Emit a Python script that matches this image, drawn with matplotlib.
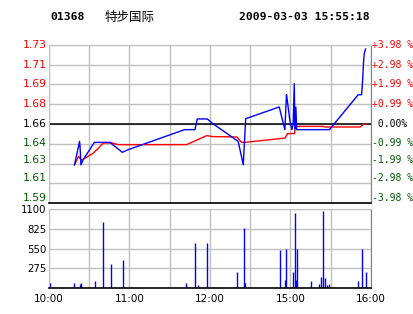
import numpy as np
import matplotlib
matplotlib.use('Agg')
import matplotlib.pyplot as plt
import matplotlib.transforms as mtransforms

# trading minutes from 10:00 (12:30-14:30 lunch break removed, 16:00 = 240)
price_t = [19, 22.8, 23.2, 23.8, 25.5, 33.8, 45.5, 54.6, 59, 101, 108.8, 110.5, 118,
           122.5, 141, 144.8, 146.6, 171.6, 175.8, 177, 177.7, 179.5, 181, 182,
           182.8, 183.3, 184, 184.6, 209, 230.5, 233, 233.8, 234.4, 235, 236]
price = [1.626, 1.6455, 1.640, 1.626, 1.6303, 1.6447, 1.6447, 1.6364, 1.6386, 1.6553, 1.6553,
         1.6642, 1.6642, 1.660, 1.6455, 1.626, 1.6644, 1.6742, 1.6553, 1.6844, 1.6790,
         1.663, 1.6553, 1.660, 1.6936, 1.656, 1.674, 1.6553, 1.6553, 1.6844, 1.6844,
         1.697, 1.711, 1.719, 1.7225]

avg_t = [19, 22, 23.3, 24.5, 29, 33, 37, 40.5, 47, 51.5, 102.5, 117.5, 122, 140, 143.5,
         146, 176, 177.7, 183, 183.5, 204, 206, 231.8, 234.8, 236]
avg = [1.626, 1.633, 1.631, 1.630, 1.633, 1.6358, 1.640, 1.6442, 1.6442, 1.6428, 1.6428,
       1.6503, 1.6495, 1.6492, 1.6447, 1.6447, 1.6483, 1.652, 1.652, 1.658, 1.658,
       1.6575, 1.6575, 1.660, 1.660]

vol_t = [1, 19, 23, 24, 34, 40, 46, 55, 102, 109, 111, 118, 140, 145, 146, 172, 176,
         177, 182, 183, 184, 185, 195, 201, 203, 204, 206, 207, 209, 230, 233, 236]
vol = [80, 80, 63, 80, 107, 925, 342, 386, 80, 635, 48, 635, 224, 840, 80, 532, 122,
       547, 224, 1046, 122, 547, 107, 63, 151, 1075, 137, 48, 63, 107, 547, 224]

prev_close = 1.66
left_labels = ['1.59', '1.61', '1.63', '1.64', '1.66', '1.68', '1.69', '1.71', '1.73']
right_labels = ['-3.98 %', '-2.98 %', '-1.99 %', '-0.99 %', ' 0.00%',
                '+0.99 %', '+1.99 %', '+2.98 %', '+3.98 %']
label_shift = [5, 5, 4, 0.6, 0, 0.5, 0.5, 0, 0]   # px the labels sit above their line
vol_ticks = [275, 550, 825, 1100]
time_labels = ['10:00', '', '11:00', '', '12:00', '', '15:00', '', '16:00']

grid_c = '#c0c0c0'
green = '#005a00'

fig = plt.figure(figsize=(4.14, 3.14), dpi=100)
fig.patch.set_facecolor('white')

fig.text(50/414, 1 - 17/314, '01368', family='DejaVu Sans Mono', weight='bold',
         fontsize=8.2, va='center', ha='left')
fig.text(105/414, 1 - 17/314, '特步国际', family=['Noto Sans CJK SC', 'DejaVu Sans'],
         fontsize=9, va='center', ha='left')
fig.text(370/414, 1 - 17/314, '2009-03-03 15:55:18', family='DejaVu Sans Mono',
         weight='bold', fontsize=8.2, va='center', ha='right')

# price panel
ax1 = fig.add_axes([49/414, 1 - 203.3/314, 322/414, 158.6/314])
step = prev_close * 0.0398 / 4
yt = [prev_close + k*step for k in range(-4, 5)]
ax1.set_ylim(yt[0], yt[-1])
ax1.set_xlim(0, 240)
ax1.set_xticks(np.arange(0, 241, 30))
ax1.set_xticklabels([])
ax1.set_yticks(yt)
ax1.set_yticklabels([])
ax1.tick_params(length=0)
ax1.grid(color=grid_c, lw=1.0)
ax1.set_axisbelow(True)
ax1.axhline(prev_close, color='black', lw=1.1)
ax1.plot(avg_t, avg, color='red', lw=1.0)
ax1.plot(price_t, price, color='blue', lw=1.0)

trans = mtransforms.blended_transform_factory(ax1.transAxes, ax1.transData)
for i in range(len(yt)):
    c = 'red' if i > 4 else (green if i < 4 else 'black')
    off = mtransforms.ScaledTranslation(0, label_shift[i]/100, fig.dpi_scale_trans)
    ax1.text(-2/322, yt[i], left_labels[i], transform=trans + off, ha='right',
             va='center', fontsize=7.8, color=c)
    ax1.text(1 + 1/322, yt[i], right_labels[i], transform=trans + off, ha='left',
             va='center', fontsize=7, family='DejaVu Sans Mono', color=c)

for s in ['top', 'left']:
    ax1.spines[s].set_color(grid_c)
ax1.spines['right'].set_color('#808080')
ax1.spines['bottom'].set_color('black')
ax1.spines['bottom'].set_linewidth(1.2)

# volume panel
ax2 = fig.add_axes([49/414, 1 - 288.3/314, 322/414, 79.3/314])
ax2.set_xlim(0, 240)
ax2.set_ylim(0, 1100)
ax2.set_xticks(np.arange(0, 241, 30))
ax2.set_xticklabels(time_labels, fontsize=7.5)
ax2.set_yticks(vol_ticks)
ax2.set_yticklabels([str(v) for v in vol_ticks], fontsize=7.3)
ax2.tick_params(length=0, pad=2)
ax2.tick_params(axis='x', pad=4)
ax2.grid(color=grid_c, lw=1.0)
ax2.set_axisbelow(True)
ax2.vlines(vol_t, 0, vol, color='blue', lw=1.0)
for s in ['top', 'left']:
    ax2.spines[s].set_color(grid_c)
ax2.spines['right'].set_color('#808080')
ax2.spines['bottom'].set_color('black')
ax2.spines['bottom'].set_linewidth(1.2)

fig.savefig('out.png', dpi=100)
